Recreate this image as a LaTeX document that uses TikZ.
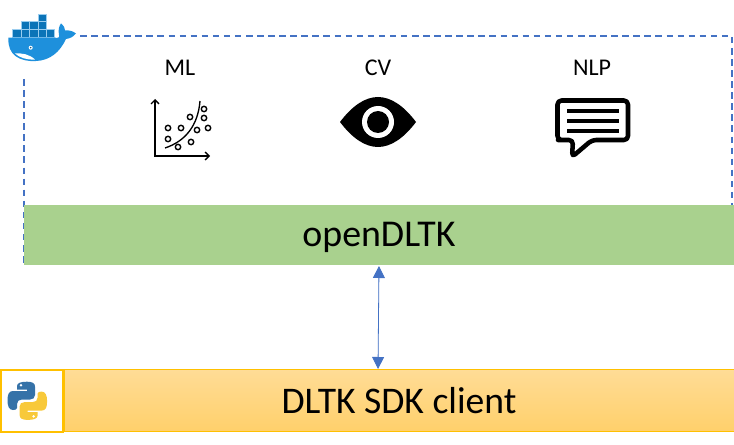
\documentclass[tikz,border=0pt]{standalone}
\usepackage{fontspec}
\setmainfont{Carlito}
\usetikzlibrary{arrows.meta, positioning}

\definecolor{dashblue}{HTML}{4472C4}
\definecolor{layergreen}{HTML}{A9D18E}
\definecolor{clientedge}{HTML}{FFC000}
\definecolor{clienttop}{HTML}{FFDC96}
\definecolor{clientbottom}{HTML}{FFD06B}
\definecolor{whaleblue}{HTML}{1E90DC}
\definecolor{crateblue}{HTML}{0B74B8}
\definecolor{pyblue}{HTML}{3572A8}
\definecolor{pyyellow}{HTML}{F8C93A}

\tikzset{
	dashbox/.style={draw=dashblue, line width=1.1pt, dash pattern=on 4.9pt off 3.4pt},
	layerbox/.style={fill=layergreen, inner sep=0pt, minimum width=532.5pt, minimum height=45pt},
	layertext/.style={inner sep=0pt, font=\fontsize{28.4}{32}\selectfont},
	clientbox/.style={draw=clientedge, line width=0.5pt, top color=clienttop, bottom color=clientbottom, inner sep=0pt, minimum width=502.5pt, minimum height=46.5pt, font=\fontsize{28.2}{32}\selectfont},
	topicname/.style={inner sep=0pt, font=\fontsize{18}{21}\selectfont},
	linkarrow/.style={{Triangle[length=9pt,width=9pt]}-{Triangle[length=9pt,width=9pt]}, draw=dashblue, fill=dashblue, line width=0.6pt},
	crate/.style={fill=crateblue, draw=whaleblue!45, line width=0.4pt}
}

\begin{document}
\begin{tikzpicture}[x=0.75pt, y=-0.75pt]
	\useasboundingbox (0,0) rectangle (734,445);

	% dashed frame, starts behind the whale
	\coordinate (framestart) at (80,36);
	\coordinate (framecorner) at (732,36);
	\coordinate (frameend) at (732,205);
	\coordinate (frameleft) at (24,79);
	\coordinate (framebottom) at (24,265);
	\draw[dashbox] (framestart) -- (framecorner) -- (frameend);
	\draw[dashbox] (frameleft) -- (framebottom);

	\node [layerbox] (opendltk) at (379,235) {};
	\node [layertext] (opendltkname) at (379,237) {openDLTK};
	\node [clientbox] (sdkclient) at (399,400.5) {DLTK SDK client};
	\node [draw=clientedge, line width=1.5pt, fill=white, minimum width=46.5pt, minimum height=46.5pt, inner sep=0pt] (pybox) at (32,400.5) {};

	\coordinate (linktop) at (379,266);
	\coordinate (linkbottom) at (378,369);
	\draw [linkarrow] (linktop) -- (linkbottom);

	\node [topicname] (ml) at (180,68) {ML};
	\node [topicname] (cv) at (378,68) {CV};
	\node [topicname] (nlp) at (592,68) {NLP};

	% ML icon
	\draw [line width=1pt, {Straight Barb[length=3pt,width=6pt]}-{Straight Barb[length=3pt,width=6pt]}] (155,99) -- (155,156) -- (210,156);
	\draw [line width=1pt] (165,148) .. controls (186,141) and (198,125) .. (200,101);
	\foreach \xdot/\ydot in {204/109,204/118,190/117,208/128,197/130,181/128,168/128,168/139,191/142,178/147}
		\draw [line width=1.05pt] (\xdot,\ydot) circle (2.7);

	% CV icon
	\fill (340,122) .. controls (352,106) and (365,97) .. (378,97) .. controls (391,97) and (404,106) .. (416,122)
		.. controls (404,138) and (391,147) .. (378,147) .. controls (365,147) and (352,138) .. (340,122) -- cycle;
	\fill [white] (378,122) circle (16);
	\fill (378,122) circle (11);

	% NLP icon
	\draw [line width=3.4pt, line join=round, rounded corners=3pt] (573,140) -- (562,140) -- (557.5,140) -- (557.5,100.5) -- (628,100.5) -- (628,140) -- (592,140) -- (572,157) -- cycle;
	\foreach \yline in {111,121,131}
		\draw [line width=2.4pt] (567,\yline) -- (619,\yline);

	% whale
	\foreach \xcrate in {12.7,21.1,29.5,37.9,46.3}
		\filldraw [crate] (\xcrate,29) rectangle ++(8.4,8);
	\foreach \xcrate in {21.1,29.5,37.9}
		\filldraw [crate] (\xcrate,21.5) rectangle ++(8.4,7.5);
	\filldraw [crate] (37.9,14.3) rectangle ++(8.4,7.2);
	\fill [whaleblue] (8.5,37.7) -- (55,37.7) .. controls (58,38) and (59.5,38) .. (59,35)
		.. controls (58,30) and (59,26) .. (61,23.5) .. controls (64,26) and (65,28) .. (65,30.5)
		.. controls (69,30) and (73,31) .. (76,33.5) .. controls (73,37) and (70,38.5) .. (66,39)
		.. controls (60,52) and (50,60.5) .. (36,61) .. controls (20,62) and (7,55) .. (8.5,37.7) -- cycle;
	\fill [white] (15,53.5) .. controls (22,53) and (29,54) .. (35,59.5) .. controls (27,60) and (20,58) .. (15,53.5) -- cycle;
	\fill [white] (30.7,47.7) circle (2);
	\fill [crateblue!60!black] (30.7,47.7) circle (0.8);

	% python logo
	\foreach \snakecol/\snakeang in {pyblue/0,pyyellow/180}
	{
		\begin{scope}[rotate around={\snakeang:(27.3,400.8)}]
			\fill [\snakecol] (27,381.7) .. controls (32,381.7) and (35,383) .. (35,386.5) -- (35,395)
				.. controls (35,398) and (33,399.5) .. (30,399.5) -- (22,399.5)
				.. controls (19,399.5) and (17,401) .. (17,404) -- (17,408)
				.. controls (17,409.5) and (15,410) .. (13,410) .. controls (9,410) and (7.5,406) .. (7.5,400.5)
				.. controls (7.5,394) and (9,391) .. (13,391) -- (27,391) -- (27,389.5) -- (17,389.5) -- (17,386)
				.. controls (17,383) and (21,381.7) .. (27,381.7) -- cycle;
			\fill [white] (21,385.2) circle (1.4);
		\end{scope}
	}
\end{tikzpicture}
\end{document}
